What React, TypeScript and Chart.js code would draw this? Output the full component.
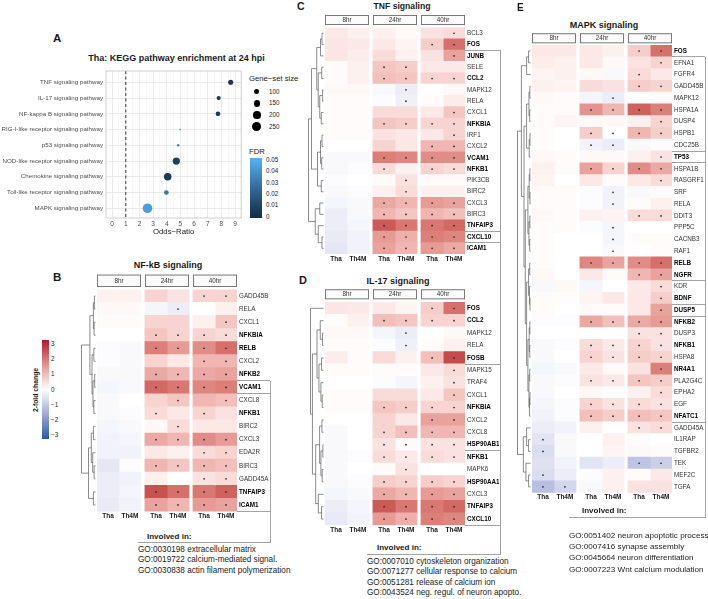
import React, { useEffect, useRef } from 'react';
import { Chart, registerables } from 'chart.js';

Chart.register(...registerables);

const FONT = '"Liberation Sans", Arial, Helvetica, sans-serif';
const INK = '#1a1a1a';
const LINE = '#a3a3a3';

// ---------------- Panel A: KEGG enrichment ----------------
const pathways = [
  'TNF signaling pathway',
  'IL-17 signaling pathway',
  'NF-kappa B signaling pathway',
  'RIG-I-like receptor signaling pathway',
  'p53 signaling pathway',
  'NOD-like receptor signaling pathway',
  'Chemokine signaling pathway',
  'Toll-like receptor signaling pathway',
  'MAPK signaling pathway',
];
const oddsRatio = [8.68, 7.8, 7.75, 4.98, 4.84, 4.7, 4.07, 3.97, 2.59];
const geneSetSize = [112, 93, 104, 70, 72, 181, 192, 104, 294];
const pathwayFdr = [0.004, 0.007, 0.007, 0.035, 0.033, 0.009, 0.006, 0.03, 0.043];
const oddsTicks = [0, 1, 2, 3, 4, 5, 6, 7, 8, 9];
const oddsRef = 1;
const sizeLegend = [100, 150, 200, 250];
const fdrLegend = [0.05, 0.04, 0.03, 0.02, 0.01, 0];

// ---------------- Heatmaps common ----------------
const timepoints = ['8hr', '24hr', '40hr'];
const treatments = ['Tha', 'Th4M'];
const foldTicks = [3, 2, 1, 0, -1, -2, -3];

// ---------------- Panel B: NF-kB ----------------
const nfkbGenes = ['GADD45B', 'RELA', 'CXCL1', 'NFKBIA', 'RELB', 'CXCL2', 'NFKB2', 'VCAM1', 'CXCL8', 'NFKB1', 'BIRC2', 'CXCL3', 'EDA2R', 'BIRC3', 'GADD45A', 'TNFAIP3', 'ICAM1'];
const nfkbBold = ['NFKBIA', 'RELB', 'NFKB2', 'VCAM1', 'NFKB1', 'TNFAIP3', 'ICAM1'];
const nfkbValues = [
  [0.2, 0.2, 0.6, 0.4, 0.6, 0.6],
  [0.1, 0.1, -0.15, -0.3, 0.0, 0.2],
  [0.05, 0.05, 0.6, 0.6, 0.2, 0.8],
  [0.0, 0.0, 0.8, 0.6, 0.6, 0.5],
  [-0.05, -0.1, 1.8, 1.4, 1.6, 2.0],
  [-0.05, -0.1, 0.6, 0.3, 1.0, 1.0],
  [-0.1, -0.1, 1.2, 1.0, 1.2, 1.3],
  [-0.15, -0.1, 2.1, 1.9, 1.7, 1.8],
  [-0.1, 0.0, 0.6, 0.8, 1.0, 0.9],
  [-0.1, -0.05, 0.5, 0.3, 0.6, 0.4],
  [-0.15, -0.1, 0.1, 0.5, 0.3, 0.3],
  [-0.2, -0.15, 1.2, 1.0, 1.6, 1.4],
  [-0.2, -0.2, 0.3, 0.2, 0.5, 0.6],
  [-0.4, -0.05, 1.0, 0.8, 1.0, 0.9],
  [-0.3, -0.2, 0.2, 0.0, 0.4, 0.5],
  [-0.3, -0.15, 2.4, 2.0, 1.9, 2.2],
  [-0.35, -0.2, 1.3, 1.0, 1.4, 1.3],
];
const nfkbSig = ['000011', '000100', '000001', '001111', '001111', '000011', '001111', '001111', '000101', '001010', '000100', '001111', '000011', '001111', '000011', '001111', '001111'];
const nfkbTree = [1, [0.4, [0.15, [0.08, 0, 1], [0.1, 2, 3]], [0.25, [0.12, 4, 5], [0.18, [0.06, 6, 7], [0.12, 8, 9]]]], [0.5, [0.3, [0.15, 10, 11], [0.2, 12, [0.1, 13, 14]]], [0.15, 15, 16]]];
const nfkbGo = ['GO:0030198 extracellular matrix', 'GO:0019722 calcium-mediated signal.', 'GO:0030838 actin filament polymerization'];

// ---------------- Panel C: TNF ----------------
const tnfGenes = ['BCL3', 'FOS', 'JUNB', 'SELE', 'CCL2', 'MAPK12', 'RELA', 'CXCL1', 'NFKBIA', 'IRF1', 'CXCL2', 'VCAM1', 'NFKB1', 'PIK3CB', 'BIRC2', 'CXCL3', 'BIRC3', 'TNFAIP3', 'CXCL10', 'ICAM1'];
const tnfBold = ['FOS', 'JUNB', 'CCL2', 'NFKBIA', 'VCAM1', 'NFKB1', 'TNFAIP3', 'CXCL10', 'ICAM1'];
const tnfValues = [
  [0.3, 0.2, 0.2, 0.1, 0.4, 0.5],
  [0.35, 0.3, 0.3, 0.15, 0.7, 2.0],
  [0.35, 0.25, 0.5, 0.2, 0.4, 1.3],
  [0.05, 0.2, 0.8, 0.7, 0.3, 0.3],
  [0.05, 0.2, 0.9, 0.8, 0.6, 0.6],
  [0.1, 0.1, -0.1, -0.3, 0.0, 0.1],
  [0.05, 0.05, -0.05, -0.25, 0.05, 0.25],
  [0.05, 0.05, 0.5, 0.5, 0.3, 0.8],
  [0.05, 0.05, 0.8, 0.7, 0.6, 0.6],
  [0.05, 0.05, 0.4, 0.3, 0.3, 0.6],
  [0.0, 0.0, 0.6, 0.3, 1.0, 1.0],
  [-0.1, -0.1, 1.8, 1.7, 1.6, 1.6],
  [-0.1, -0.05, 0.5, 0.2, 0.6, 0.5],
  [-0.05, 0.0, 0.05, 0.4, 0.05, 0.05],
  [-0.1, -0.05, 0.2, 0.5, 0.2, 0.2],
  [-0.15, -0.1, 1.2, 1.0, 1.4, 1.3],
  [-0.3, -0.1, 1.0, 0.8, 1.0, 0.9],
  [-0.3, -0.15, 2.3, 1.9, 1.9, 2.1],
  [-0.35, -0.2, 1.4, 1.1, 1.8, 1.7],
  [-0.4, -0.2, 1.3, 1.0, 1.4, 1.2],
];
const tnfSig = ['000001', '000011', '000001', '001100', '001111', '000100', '000100', '000001', '001111', '000001', '000011', '001111', '001011', '000100', '000100', '001111', '001111', '001111', '001111', '001111'];
const tnfTree = [1, [0.8, [0.45, [0.2, [0.1, 0, 1], 2], [0.35, [0.12, 3, 4], [0.25, [0.06, 5, 6], [0.15, 7, 8]]]], [0.4, [0.2, [0.1, 9, 10], [0.12, 11, 12]], [0.15, 13, 14]]], [0.55, [0.25, 15, 16], [0.35, 17, [0.1, 18, 19]]]];

// ---------------- Panel D: IL-17 ----------------
const il17Genes = ['FOS', 'CCL2', 'MAPK12', 'RELA', 'FOSB', 'MAPK15', 'TRAF4', 'CXCL1', 'NFKBIA', 'CXCL2', 'CXCL8', 'HSP90AB1', 'NFKB1', 'MAPK6', 'HSP90AA1', 'CXCL3', 'TNFAIP3', 'CXCL10'];
const il17Bold = ['FOS', 'CCL2', 'FOSB', 'NFKBIA', 'HSP90AB1', 'NFKB1', 'HSP90AA1', 'TNFAIP3', 'CXCL10'];
const il17Values = [
  [0.35, 0.3, 0.3, 0.15, 0.7, 2.0],
  [0.05, 0.2, 0.9, 0.8, 0.6, 0.6],
  [0.1, 0.1, -0.15, -0.3, 0.0, 0.1],
  [0.05, 0.05, -0.05, -0.25, 0.05, 0.2],
  [0.25, 0.05, 0.5, 0.2, 0.9, 2.5],
  [0.05, 0.05, 0.05, 0.05, 0.3, 0.5],
  [0.0, 0.0, -0.05, -0.15, 0.2, 0.4],
  [0.05, 0.05, 0.5, 0.5, 0.3, 0.8],
  [0.05, 0.05, 0.8, 0.7, 0.6, 0.6],
  [0.0, 0.0, 0.6, 0.3, 1.3, 1.3],
  [-0.1, 0.0, 0.6, 0.9, 1.0, 1.0],
  [-0.1, 0.0, 0.4, 0.05, 0.4, 0.4],
  [-0.1, -0.05, 0.5, 0.3, 0.5, 0.4],
  [-0.1, 0.0, 0.05, 0.4, 0.0, 0.0],
  [-0.1, -0.05, 0.7, 0.6, 0.7, 0.6],
  [-0.15, -0.1, 1.2, 1.0, 1.4, 1.3],
  [-0.3, -0.15, 2.3, 1.9, 1.9, 2.1],
  [-0.35, -0.2, 1.4, 1.1, 1.8, 1.7],
];
const il17Sig = ['000011', '001111', '000100', '000100', '000011', '000001', '000001', '000001', '001111', '000011', '001111', '001111', '001111', '000100', '001111', '001111', '001111', '001111'];
const il17Tree = [1, 0, [0.85, [0.5, [0.25, 1, [0.08, 2, 3]], [0.35, [0.15, 4, 5], [0.2, 6, [0.1, 7, 8]]]], [0.6, [0.3, [0.12, 9, 10], [0.2, [0.05, 11, 12], [0.1, 13, 14]]], [0.4, 15, [0.15, 16, 17]]]]];
const il17Go = ['GO:0007010 cytoskeleton organization', 'GO:0071277 cellular response to calcium', 'GO:0051281 release of calcium ion', 'GO:0043524 neg. regul. of neuron apopto.'];

// ---------------- Panel E: MAPK ----------------
const mapkGenes = ['FOS', 'EFNA1', 'FGFR4', 'GADD45B', 'MAPK12', 'HSPA1A', 'DUSP4', 'HSPB1', 'CDC25B', 'TP53', 'HSPA1B', 'RASGRF1', 'SRF', 'RELA', 'DDIT3', 'PPP5C', 'CACNB3', 'RAF1', 'RELB', 'NGFR', 'KDR', 'BDNF', 'DUSP5', 'NFKB2', 'DUSP3', 'NFKB1', 'HSPA8', 'NR4A1', 'PLA2G4C', 'EPHA2', 'EGF', 'NFATC1', 'GADD45A', 'IL1RAP', 'TGFBR2', 'TEK', 'MEF2C', 'TGFA'];
const mapkBold = ['FOS', 'TP53', 'RELB', 'NGFR', 'BDNF', 'DUSP5', 'NFKB2', 'NFKB1', 'NR4A1', 'NFATC1'];
const mapkValues = [
  [0.3, 0.3, 0.3, 0.2, 0.7, 2.0],
  [0.25, 0.2, 0.3, 0.1, 0.4, 0.6],
  [0.15, 0.2, 0.1, -0.1, 0.5, 0.3],
  [0.2, 0.15, 0.5, 0.4, 0.7, 0.6],
  [0.1, 0.05, -0.15, -0.3, 0.0, 0.05],
  [0.05, 0.05, 1.5, 1.0, 2.2, 1.8],
  [0.05, 0.15, 0.1, 0.1, 0.2, 0.6],
  [0.05, 0.0, 0.7, 0.0, 1.0, 0.7],
  [0.05, 0.0, -0.2, -0.3, -0.1, -0.05],
  [0.1, 0.05, 0.1, 0.1, 0.2, 0.4],
  [0.2, 0.05, 1.3, 0.6, 1.6, 1.2],
  [0.15, 0.0, 0.3, 0.05, 0.3, 0.5],
  [0.05, 0.05, -0.05, -0.2, -0.1, 0.05],
  [0.05, 0.05, -0.05, -0.2, 0.05, 0.2],
  [0.1, 0.05, 0.2, 0.15, 0.5, 0.5],
  [0.05, 0.05, -0.05, -0.15, 0.0, 0.0],
  [0.05, 0.0, 0.0, -0.15, 0.05, 0.05],
  [0.05, 0.0, 0.0, -0.1, 0.0, 0.05],
  [0.05, 0.0, 1.7, 1.3, 1.6, 2.0],
  [0.1, 0.0, 0.3, 0.05, 1.0, 1.3],
  [-0.1, 0.1, -0.15, 0.0, 0.3, 0.5],
  [0.05, 0.05, 0.15, 0.3, 0.3, 0.7],
  [0.05, 0.0, 0.05, 0.05, 0.3, 1.3],
  [-0.05, -0.05, 1.2, 0.9, 1.2, 1.4],
  [0.0, 0.0, 0.0, 0.0, 0.4, 0.4],
  [-0.1, -0.05, 0.5, 0.3, 0.6, 0.4],
  [-0.1, 0.0, 0.6, 0.4, 0.7, 0.6],
  [-0.15, -0.1, 0.3, 0.1, 0.4, 1.8],
  [-0.1, -0.05, 0.4, 0.3, 0.8, 0.7],
  [-0.1, 0.0, 0.1, -0.05, 0.2, 0.5],
  [-0.15, -0.05, 0.6, 0.4, 0.5, 0.4],
  [-0.2, -0.05, 0.9, 0.7, 0.9, 0.8],
  [-0.3, -0.2, 0.2, 0.0, 0.4, 0.5],
  [-0.45, -0.1, 0.0, 0.2, 0.05, 0.0],
  [-0.55, -0.1, 0.0, 0.15, 0.1, 0.05],
  [-0.5, -0.2, -0.45, -0.3, -1.0, -0.8],
  [-0.55, -0.3, -0.05, 0.2, 0.05, 0.3],
  [-1.1, -0.7, -0.1, 0.2, 0.4, 0.4],
];
const mapkSig = ['000011', '000001', '000010', '000011', '000100', '001111', '000001', '001111', '001100', '000001', '001111', '000001', '000100', '000100', '000011', '000100', '000100', '000100', '001111', '000011', '000001', '000001', '000001', '001111', '000011', '001111', '001111', '000001', '001111', '000001', '001111', '001111', '000011', '100000', '100000', '000011', '100000', '110000'];
const mapkTreeTop = [0.3, [0.15, 0, 1], 2];
const mapkTreeMidA = [0.3, [0.12, [0.05, 3, 4], [0.06, 5, 6]], [0.1, [0.04, 7, 8], 9]];
const mapkTreeMidB = [0.2, [0.1, [0.05, 10, 11], [0.04, 12, 13]], [0.12, [0.05, 14, 15], [0.06, 16, 17]]];
const mapkTreeMidC = [0.3, [0.15, [0.06, 18, 19], [0.08, 20, [0.04, 21, 22]]], [0.2, [0.1, [0.05, 23, 24], [0.06, 25, 26]], [0.12, [0.06, 27, 28], [0.08, [0.04, 29, 30], 31]]]];
const mapkTreeLow = [0.55, [0.3, 32, [0.15, 33, 34]], [0.35, 35, [0.15, 36, 37]]];
const mapkTree = [1, [0.7, mapkTreeTop, [0.5, mapkTreeMidA, [0.4, mapkTreeMidB, mapkTreeMidC]]], mapkTreeLow];
const mapkGo = ['GO:0051402 neuron apoptotic process', 'GO:0007416 synapse assembly', 'GO:0045664 neuron differentiation', 'GO:0007223 Wnt calcium modulation'];

// ---------------- colour helpers (Lab interpolation, like ggplot) ----------------
const toLin = (c: number) => { c /= 255; return c <= 0.04045 ? c / 12.92 : Math.pow((c + 0.055) / 1.055, 2.4); };
const fromLin = (c: number) => { const v = c <= 0.0031308 ? 12.92 * c : 1.055 * Math.pow(c, 1 / 2.4) - 0.055; return Math.round(Math.max(0, Math.min(1, v)) * 255); };
const XN = 0.95047, YN = 1, ZN = 1.08883;
function rgb2lab(rgb: number[]) {
  const [r, g, b] = rgb.map(toLin);
  const x = (r * 0.4124 + g * 0.3576 + b * 0.1805) / XN;
  const y = (r * 0.2126 + g * 0.7152 + b * 0.0722) / YN;
  const z = (r * 0.0193 + g * 0.1192 + b * 0.9505) / ZN;
  const f = (t: number) => (t > 0.008856 ? Math.cbrt(t) : 7.787 * t + 16 / 116);
  return [116 * f(y) - 16, 500 * (f(x) - f(y)), 200 * (f(y) - f(z))];
}
function lab2rgb(lab: number[]) {
  const [L, A, B] = lab;
  const fy = (L + 16) / 116, fx = fy + A / 500, fz = fy - B / 200;
  const fi = (t: number) => (t > 0.206893 ? t * t * t : (t - 16 / 116) / 7.787);
  const x = fi(fx) * XN, y = fi(fy) * YN, z = fi(fz) * ZN;
  const r = x * 3.2406 + y * -1.5372 + z * -0.4986;
  const g = x * -0.9689 + y * 1.8758 + z * 0.0415;
  const b = x * 0.0557 + y * -0.204 + z * 1.057;
  return [fromLin(r), fromLin(g), fromLin(b)];
}
function mixLab(c1: number[], c2: number[], a: number) {
  const l1 = rgb2lab(c1), l2 = rgb2lab(c2);
  const c = lab2rgb(l1.map((v, k) => v + (l2[k] - v) * a));
  return `rgb(${c.join(',')})`;
}
const HOT = [178, 24, 43];
const COLD = [38, 90, 172];
const WHITE = [255, 255, 255];
function heatColor(v: number) {
  const t = Math.max(-1, Math.min(1, v / 3));
  return mixLab(WHITE, t >= 0 ? HOT : COLD, Math.abs(t));
}
const FDR_LO = [19, 43, 67];
const FDR_HI = [86, 177, 247];
function fdrColor(f: number) {
  return mixLab(FDR_LO, FDR_HI, Math.max(0, Math.min(1, f / 0.05)));
}
const sMin = Math.min(...geneSetSize);
const sMax = Math.max(...geneSetSize);
const sizeR = (s: number) => 0.8 * (1 + 5 * Math.sqrt(Math.max(0, (s - sMin) / (sMax - sMin))));
const fmtFold = (v: number) => (v < 0 ? '\u2212' + Math.abs(v) : String(v));

const Txt = ({ x, y, children, size = 8, bold = false, align = 'left', color = INK, rotate = 0 }: any) => (
  <div
    style={{
      position: 'absolute', left: x, top: y,
      transform: `translate(${align === 'center' ? '-50%' : align === 'right' ? '-100%' : '0'}, -50%)${rotate ? ` rotate(${rotate}deg)` : ''}`,
      fontFamily: FONT, fontSize: size, fontWeight: bold ? 700 : 400, color, whiteSpace: 'nowrap', lineHeight: 1,
    }}
  >
    {children}
  </div>
);
const HLine = ({ x1, x2, y }: any) => (
  <div style={{ position: 'absolute', left: x1, top: y - 0.5, width: x2 - x1, height: 1, background: LINE }} />
);
const VLine = ({ x, y1, y2 }: any) => (
  <div style={{ position: 'absolute', left: x - 0.5, top: y1, width: 1, height: y2 - y1, background: LINE }} />
);

// ---------------- Panel A chart ----------------
function BubbleA() {
  const ref = useRef<HTMLCanvasElement>(null);
  const cTop = 64;
  const box = { left: 106, top: 71, right: 242, bottom: 218 };
  const axH = 19;
  const W = 246;
  const H = Math.ceil(box.bottom - cTop + axH);
  useEffect(() => {
    const minor = oddsTicks.slice(0, -1).map((v) => v + 0.5);
    const allTicks = [...oddsTicks, ...minor].sort((a, b) => a - b);
    const decor = {
      id: 'decorA',
      beforeDatasetsDraw(chart: any) {
        const { ctx, chartArea: a, scales } = chart;
        const px = scales.x.getPixelForValue(oddsRef);
        ctx.save();
        ctx.strokeStyle = '#222';
        ctx.lineWidth = 0.9;
        ctx.setLineDash([3, 2.5]);
        ctx.beginPath();
        ctx.moveTo(px, a.top);
        ctx.lineTo(px, a.bottom);
        ctx.stroke();
        ctx.restore();
      },
      afterDraw(chart: any) {
        const { ctx, chartArea: a } = chart;
        ctx.save();
        ctx.strokeStyle = '#c4c4c4';
        ctx.lineWidth = 0.8;
        ctx.strokeRect(a.left, a.top, a.right - a.left, a.bottom - a.top);
        ctx.restore();
      },
    };
    const chart = new Chart(ref.current!, {
      type: 'bubble',
      data: {
        datasets: [
          {
            data: pathways.map((_, i) => ({ x: oddsRatio[i], y: i, r: sizeR(geneSetSize[i]) })),
            backgroundColor: pathwayFdr.map(fdrColor),
            borderWidth: 0,
          } as any,
        ],
      },
      options: {
        responsive: false,
        animation: false,
        devicePixelRatio: 1,
        events: [],
        layout: { padding: { left: 0, top: box.top - cTop, right: W - box.right, bottom: H - (box.bottom - cTop + axH) } },
        plugins: { legend: { display: false }, tooltip: { enabled: false } },
        scales: {
          x: {
            type: 'linear', min: -0.45, max: 9.45,
            afterBuildTicks: (s: any) => { s.ticks = allTicks.map((v) => ({ value: v })); },
            grid: {
              color: (c: any) => (Number.isInteger(c.tick?.value) ? '#e4e4e4' : '#f2f2f2'),
              lineWidth: (c: any) => (Number.isInteger(c.tick?.value) ? 0.8 : 0.6),
              drawTicks: false,
            },
            border: { display: false },
            ticks: {
              autoSkip: false, maxRotation: 0, padding: 2, color: '#4d4d4d',
              font: { family: FONT, size: 6.5 },
              callback: (v: any) => (Number.isInteger(v) ? String(v) : ''),
            },
            title: { display: true, text: 'Odds\u2212Ratio', color: INK, font: { family: FONT, size: 7.8 }, padding: { top: 0, bottom: 0 } },
            afterFit: (s: any) => { s.height = axH; },
          },
          y: {
            type: 'linear', reverse: true, min: -0.72, max: pathways.length - 1 + 0.62,
            afterBuildTicks: (s: any) => { s.ticks = pathways.map((_, i) => ({ value: i })); },
            grid: { color: '#e4e4e4', lineWidth: 0.8, drawTicks: false },
            border: { display: false },
            ticks: {
              autoSkip: false, padding: 3, color: '#4d4d4d',
              font: { family: FONT, size: 6.2 },
              callback: (v: any) => pathways[v] ?? '',
            },
            afterFit: (s: any) => { s.width = box.left; },
          },
        },
      } as any,
      plugins: [decor],
    });
    return () => chart.destroy();
  }, []);
  return <canvas ref={ref} width={W} height={H} style={{ position: 'absolute', left: 0, top: cTop }} />;
}

// ---------------- Heatmap chart ----------------
const GAP = 0.19;
const colStart = timepoints.flatMap((_, f) => treatments.map((__, k) => f * (treatments.length + GAP) + k));
const colLabels = timepoints.flatMap(() => treatments);

function Heatmap({ p }: any) {
  const ref = useRef<HTMLCanvasElement>(null);
  const { box, cLeft, cTop, axisW } = p;
  const axisH = 10;
  const W = Math.ceil(box.right - cLeft + axisW);
  const H = Math.ceil(box.bottom - cTop + axisH);
  useEffect(() => {
    const { genes, values, sig, bold, tree, stripH, stripGap, dendroW } = p;
    const boldSet = new Set(bold);
    const xMax = colStart[colStart.length - 1] + 1;
    const decor = {
      id: 'heatDecor',
      afterDatasetsDraw(chart: any) {
        const ctx = chart.ctx;
        ctx.save();
        ctx.fillStyle = '#262626';
        chart.data.datasets.forEach((_: any, j: number) => {
          const meta = chart.getDatasetMeta(j);
          meta.data.forEach((el: any, i: number) => {
            if (sig[i][j] === '1') {
              ctx.beginPath();
              ctx.arc((el.x + el.base) / 2, el.y, 0.85, 0, Math.PI * 2);
              ctx.fill();
            }
          });
        });
        ctx.restore();
      },
      afterDraw(chart: any) {
        const { ctx, chartArea: a, scales } = chart;
        ctx.save();
        // facet strips
        timepoints.forEach((t, f) => {
          const x0 = scales.x.getPixelForValue(colStart[f * 2]);
          const x1 = scales.x.getPixelForValue(colStart[f * 2 + 1] + 1);
          const y0 = a.top - stripGap - stripH;
          ctx.fillStyle = '#fbfbfb';
          ctx.fillRect(x0, y0, x1 - x0, stripH);
          ctx.strokeStyle = '#6b6b6b';
          ctx.lineWidth = 0.9;
          ctx.strokeRect(x0 + 0.45, y0 + 0.45, x1 - x0 - 0.9, stripH - 0.9);
          ctx.fillStyle = '#333';
          ctx.font = `6.3px ${FONT}`;
          ctx.textAlign = 'center';
          ctx.textBaseline = 'middle';
          ctx.fillText(t, (x0 + x1) / 2, y0 + stripH / 2 + 0.3);
        });
        // dendrogram
        ctx.strokeStyle = '#5a5a5a';
        ctx.lineWidth = 0.7;
        const hx = (h: number) => a.left - 1.5 - h * dendroW;
        const seg = (x1: number, y1: number, x2: number, y2: number) => {
          ctx.beginPath();
          ctx.moveTo(x1, y1);
          ctx.lineTo(x2, y2);
          ctx.stroke();
        };
        const walk = (node: any): any => {
          if (typeof node === 'number') return { y: scales.y.getPixelForValue(node), h: 0 };
          const [h, l, r] = node;
          const A = walk(l);
          const B = walk(r);
          const x = hx(h);
          seg(hx(A.h), A.y, x, A.y);
          seg(hx(B.h), B.y, x, B.y);
          seg(x, A.y, x, B.y);
          return { y: (A.y + B.y) / 2, h };
        };
        walk(tree);
        ctx.restore();
      },
    };
    const chart = new Chart(ref.current!, {
      type: 'bar',
      data: {
        labels: genes,
        datasets: colStart.map((x0, j) => ({
          data: genes.map(() => [x0, x0 + 1]),
          backgroundColor: values.map((r: number[]) => heatColor(r[j])),
          borderWidth: 0,
          inflateAmount: 0.5,
          barPercentage: 1,
          categoryPercentage: 1,
          grouped: false,
        })) as any,
      },
      options: {
        indexAxis: 'y',
        responsive: false,
        animation: false,
        devicePixelRatio: 1,
        events: [],
        layout: {
          padding: {
            left: box.left - cLeft,
            top: box.top - cTop,
            right: W - (box.right - cLeft + axisW),
            bottom: H - (box.bottom - cTop + axisH),
          },
        },
        plugins: { legend: { display: false }, tooltip: { enabled: false } },
        scales: {
          x: {
            type: 'linear', min: 0, max: xMax, position: 'bottom',
            afterBuildTicks: (s: any) => { s.ticks = colStart.map((v) => ({ value: v + 0.5 })); },
            grid: { display: false, drawTicks: false },
            border: { display: false },
            ticks: {
              autoSkip: false, maxRotation: 0, padding: 1, color: '#1a1a1a',
              font: { family: FONT, size: 6.5, weight: 'bold' },
              callback: (_v: any, i: number) => colLabels[i],
            },
            afterFit: (s: any) => { s.height = axisH; },
          },
          y: {
            type: 'category', position: 'right', offset: true,
            grid: { display: false, drawTicks: false },
            border: { display: false },
            ticks: {
              autoSkip: false, padding: 2,
              color: (c: any) => (boldSet.has(genes[c.index]) ? '#000' : '#333'),
              font: (c: any) => ({ family: FONT, size: 6.3, weight: boldSet.has(genes[c.index]) ? 'bold' : 'normal' }),
            },
            afterFit: (s: any) => { s.width = axisW; },
          },
        },
      } as any,
      plugins: [decor],
    });
    return () => chart.destroy();
  }, []);
  return <canvas ref={ref} width={W} height={H} style={{ position: 'absolute', left: cLeft, top: cTop }} />;
}

const panelB = { genes: nfkbGenes, values: nfkbValues, sig: nfkbSig, bold: nfkbBold, tree: nfkbTree, box: { left: 97, top: 289.5, right: 237, bottom: 511.5 }, cLeft: 75, cTop: 262, axisW: 38, stripH: 12.4, stripGap: 2.5, dendroW: 14 };
const panelC = { genes: tnfGenes, values: tnfValues, sig: tnfSig, bold: tnfBold, tree: tnfTree, box: { left: 325, top: 27.6, right: 465, bottom: 254 }, cLeft: 302, cTop: 0, axisW: 34, stripH: 10, stripGap: 2.6, dendroW: 15 };
const panelD = { genes: il17Genes, values: il17Values, sig: il17Sig, bold: il17Bold, tree: il17Tree, box: { left: 325, top: 302.1, right: 465, bottom: 525.3 }, cLeft: 302, cTop: 282, axisW: 34, stripH: 10, stripGap: 2.8, dendroW: 13 };
const panelE = { genes: mapkGenes, values: mapkValues, sig: mapkSig, bold: mapkBold, tree: mapkTree, box: { left: 532, top: 45.1, right: 672, bottom: 492.7 }, cLeft: 508, cTop: 20, axisW: 36, stripH: 10, stripGap: 1.8, dendroW: 13 };

const rowEdge = (p: any, k: number) => p.box.top + (k * (p.box.bottom - p.box.top)) / p.genes.length;

function Brackets({ p, bx, ks }: any) {
  return (
    <>
      {ks.map((k: number) => (
        <HLine key={k} x1={p.box.right} x2={bx} y={rowEdge(p, k)} />
      ))}
    </>
  );
}

export default function App() {
  const barTop = 340;
  const barBottom = 439;
  const tickY = (v: number) => 389.5 - v * 15.17;
  return (
    <div style={{ position: 'fixed', left: 0, top: 0, width: 708, height: 599, background: '#fff', overflow: 'hidden' }}>
      {/* Panel A */}
      <Txt x={53} y={38.5} size={11.5} bold>A</Txt>
      <Txt x={176.5} y={58} size={9} bold align="center">Tha: KEGG pathway enrichment at 24 hpi</Txt>
      <BubbleA />
      <Txt x={249} y={79} size={7.7}>Gene{'\u2212'}set size</Txt>
      {sizeLegend.map((s, i) => {
        const r = sizeR(s);
        const cy = 91.7 + i * 11.7;
        return (
          <React.Fragment key={s}>
            <div style={{ position: 'absolute', left: 256.7 - r, top: cy - r, width: 2 * r, height: 2 * r, borderRadius: '50%', background: '#000' }} />
            <Txt x={269} y={cy} size={6.3}>{s}</Txt>
          </React.Fragment>
        );
      })}
      <Txt x={249} y={151.5} size={7.7}>FDR</Txt>
      <div style={{ position: 'absolute', left: 250, top: 158, width: 12, height: 60, background: `linear-gradient(to bottom, ${fdrColor(0.05)}, ${fdrColor(0.025)}, ${fdrColor(0)})` }} />
      {fdrLegend.map((f, i) => (
        <Txt key={f} x={266} y={160 + i * 11.35} size={6.3}>{String(f)}</Txt>
      ))}

      {/* Panel B */}
      <Txt x={53} y={278} size={11.5} bold>B</Txt>
      <Txt x={168} y={265} size={9} bold align="center">NF-kB signaling</Txt>
      <Heatmap p={panelB} />
      <div style={{ position: 'absolute', left: 42, top: barTop, width: 7, height: barBottom - barTop, background: `linear-gradient(to bottom, ${heatColor(3)}, ${heatColor(1.5)}, ${heatColor(0)}, ${heatColor(-1.5)}, ${heatColor(-3)})` }} />
      {foldTicks.map((v) => (
        <Txt key={v} x={51} y={tickY(v)} size={6.3}>{fmtFold(v)}</Txt>
      ))}
      <Txt x={36} y={390} size={6.8} bold align="center" rotate={-90}>2-fold change</Txt>
      <Brackets p={panelB} bx={270} ks={[7, 8, 17]} />
      <VLine x={270} y1={rowEdge(panelB, 7)} y2={542} />
      <HLine x1={138} x2={270.5} y={542} />
      <Txt x={147} y={537} size={8} bold>Involved in:</Txt>
      {nfkbGo.map((g, i) => (
        <Txt key={g} x={138} y={550 + i * 10.3} size={8.2}>{g}</Txt>
      ))}

      {/* Panel C */}
      <Txt x={297} y={6} size={10.5} bold>C</Txt>
      <Txt x={402} y={5.5} size={8.6} bold align="center">TNF signaling</Txt>
      <Heatmap p={panelC} />
      <Brackets p={panelC} bx={500} ks={[2, 18, 19]} />

      {/* Panel D */}
      <Txt x={299} y={279.5} size={11} bold>D</Txt>
      <Txt x={398} y={280.7} size={9} bold align="center">IL-17 signaling</Txt>
      <Heatmap p={panelD} />
      <Brackets p={panelD} bx={500} ks={[5, 12, 18]} />
      <VLine x={500} y1={rowEdge(panelC, 2)} y2={554} />
      <HLine x1={367} x2={500.5} y={554} />
      <Txt x={377} y={548} size={8} bold>Involved in:</Txt>
      {il17Go.map((g, i) => (
        <Txt key={g} x={367} y={561.7 + i * 10.5} size={8.2}>{g}</Txt>
      ))}

      {/* Panel E */}
      <Txt x={517} y={8} size={10} bold>E</Txt>
      <Txt x={604} y={25} size={9} bold align="center">MAPK signaling</Txt>
      <Heatmap p={panelE} />
      <Brackets p={panelE} bx={705} ks={[1, 9, 10, 20, 22, 23, 32]} />
      <VLine x={705} y1={rowEdge(panelE, 1)} y2={517} />
      <HLine x1={569} x2={705.5} y={517} />
      <Txt x={582} y={511} size={8} bold>Involved in:</Txt>
      {mapkGo.map((g, i) => (
        <Txt key={g} x={569} y={536 + i * 11.2} size={8.1}>{g}</Txt>
      ))}
    </div>
  );
}
